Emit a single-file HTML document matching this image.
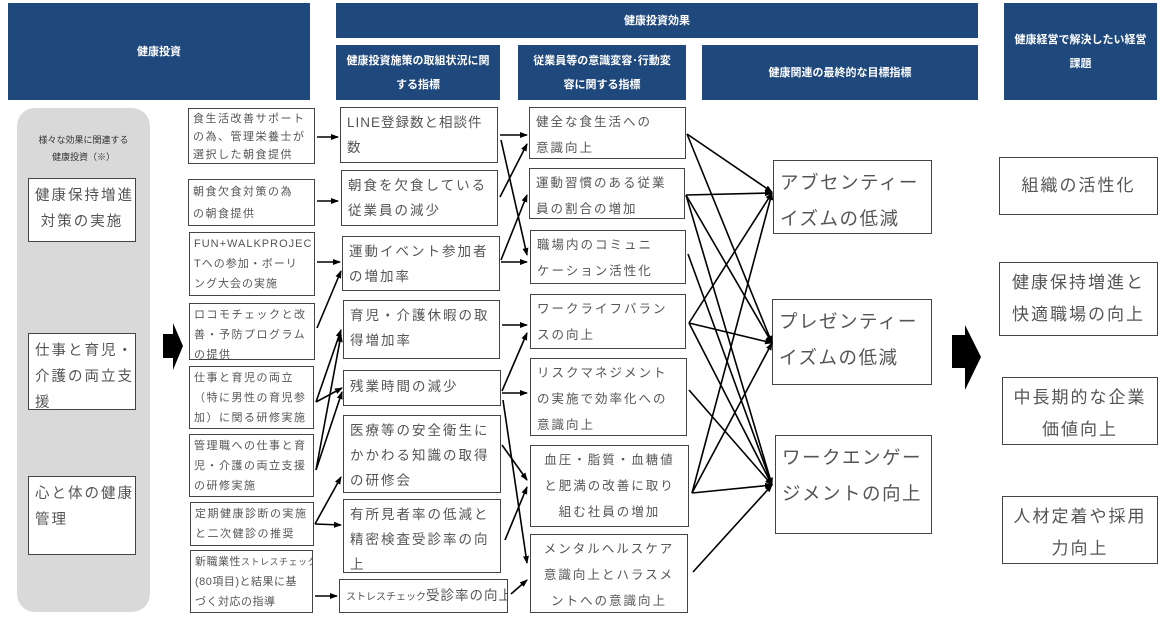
<!DOCTYPE html>
<html><head><meta charset="utf-8"><style>
body{margin:0;width:1167px;height:620px;background:#fff;position:relative;overflow:hidden;font-family:"Liberation Sans","Noto Sans CJK JP",sans-serif;}
.h{position:absolute;background:#1f497d;color:#fff;font-weight:bold;font-size:11px;display:flex;align-items:center;justify-content:center;text-align:center;line-height:24px;}
.b{position:absolute;border:1.5px solid #444;background:#fff;color:#555;box-sizing:border-box;white-space:nowrap;overflow:hidden;}
.a{font-size:11px;line-height:20px;padding:1px 4px;letter-spacing:1.5px;}
.m{font-size:13.5px;line-height:25px;padding:2px 6px;letter-spacing:2px;}
.c{font-size:12.5px;line-height:26px;padding:1px 6px;letter-spacing:2px;}
.d{font-size:18.5px;line-height:36px;padding:4px 6px;letter-spacing:1.5px;}
.e{font-size:17px;line-height:32px;padding:4px 6px;text-align:center;letter-spacing:2px;}
.l{font-size:14.5px;line-height:26px;padding:4px 6px;letter-spacing:2px;}
svg{position:absolute;left:0;top:0;}
</style></head><body>
<div class="h" style="left:8px;top:3px;width:302px;height:97px;">健康投資</div>
<div class="h" style="left:336px;top:3px;width:642px;height:35px;">健康投資効果</div>
<div class="h" style="left:336px;top:45px;width:164px;height:55px;">健康投資施策の取組状況に関<br>する指標</div>
<div class="h" style="left:518px;top:45px;width:168px;height:55px;">従業員等の意識変容･行動変<br>容に関する指標</div>
<div class="h" style="left:702px;top:45px;width:276px;height:55px;">健康関連の最終的な目標指標</div>
<div class="h" style="left:1004px;top:3px;width:153px;height:97px;">健康経営で解決したい経営<br>課題</div>

<div style="position:absolute;left:17px;top:108px;width:133px;height:504px;background:#d9d9d9;border-radius:18px;"></div>
<div style="position:absolute;left:17px;top:132px;width:133px;text-align:center;font-size:9px;line-height:17px;color:#333;">様々な効果に関連する<br>健康投資（※）</div>
<div class="b l" style="left:28px;top:178px;width:108px;height:64px;text-align:center;">健康保持増進<br>対策の実施</div>
<div class="b l" style="left:28px;top:333px;width:108px;height:77px;">仕事と育児・<br>介護の両立支<br>援</div>
<div class="b l" style="left:28px;top:476px;width:108px;height:79px;">心と体の健康<br>管理</div>

<div class="b a" style="left:188px;top:108px;width:127px;height:56px;line-height:18px;">食生活改善サポート<br>の為、管理栄養士が<br>選択した朝食提供</div>
<div class="b a" style="left:188px;top:179px;width:127px;height:47px;line-height:22px;">朝食欠食対策の為<br>の朝食提供</div>
<div class="b a" style="left:189px;top:232px;width:126px;height:64px;letter-spacing:1px;">FUN+WALKPROJEC<br>Tへの参加・ボーリ<br>ング大会の実施</div>
<div class="b a" style="left:189px;top:303px;width:126px;height:57px;">ロコモチェックと改<br>善・予防プログラム<br>の提供</div>
<div class="b a" style="left:189px;top:366px;width:125px;height:63px;">仕事と育児の両立<br>（特に男性の育児参<br>加）に関る研修実施</div>
<div class="b a" style="left:189px;top:434px;width:125px;height:63px;">管理職への仕事と育<br>児・介護の両立支援<br>の研修実施</div>
<div class="b a" style="left:190px;top:502px;width:124px;height:44px;">定期健康診断の実施<br>と二次健診の推奨</div>
<div class="b a" style="left:190px;top:550px;width:123px;height:63px;letter-spacing:0.5px;">新職業性<span style="font-size:9px">ストレスチェック</span><br>(80項目)と結果に基<br>づく対応の指導</div>

<div class="b m" style="left:340px;top:107px;width:158px;height:56px;letter-spacing:1px;">LINE登録数と相談件<br>数</div>
<div class="b m" style="left:341px;top:170px;width:157px;height:56px;">朝食を欠食している<br>従業員の減少</div>
<div class="b m" style="left:342px;top:236px;width:158px;height:55px;">運動イベント参加者<br>の増加率</div>
<div class="b m" style="left:343px;top:300px;width:157px;height:59px;">育児・介護休暇の取<br>得増加率</div>
<div class="b m" style="left:343px;top:370px;width:158px;height:36px;line-height:28px;">残業時間の減少</div>
<div class="b m" style="left:343px;top:415px;width:158px;height:78px;">医療等の安全衛生に<br>かかわる知識の取得<br>の研修会</div>
<div class="b m" style="left:343px;top:499px;width:158px;height:74px;">有所見者率の低減と<br>精密検査受診率の向<br>上</div>
<div class="b m" style="left:339px;top:579px;width:169px;height:34px;letter-spacing:1px;padding-top:3px;"><span style="font-size:10px;letter-spacing:0">ストレスチェック</span>受診率の向上</div>

<div class="b c" style="left:529px;top:107px;width:157px;height:52px;">健全な食生活への<br>意識向上</div>
<div class="b c" style="left:529px;top:168px;width:156px;height:51px;">運動習慣のある従業<br>員の割合の増加</div>
<div class="b c" style="left:530px;top:230px;width:156px;height:54px;">職場内のコミュニ<br>ケーション活性化</div>
<div class="b c" style="left:530px;top:294px;width:156px;height:55px;">ワークライフバラン<br>スの向上</div>
<div class="b c" style="left:530px;top:358px;width:157px;height:78px;">リスクマネジメント<br>の実施で効率化への<br>意識向上</div>
<div class="b c" style="left:530px;top:445px;width:159px;height:82px;text-align:center;">血圧・脂質・血糖値<br>と肥満の改善に取り<br>組む社員の増加</div>
<div class="b c" style="left:530px;top:534px;width:158px;height:79px;text-align:center;">メンタルヘルスケア<br>意識向上とハラスメ<br>ントへの意識向上</div>

<div class="b d" style="left:773px;top:160px;width:159px;height:74px;">アブセンティー<br>イズムの低減</div>
<div class="b d" style="left:772px;top:299px;width:160px;height:86px;">プレゼンティー<br>イズムの低減</div>
<div class="b d" style="left:775px;top:435px;width:157px;height:99px;">ワークエンゲー<br>ジメントの向上</div>

<div class="b e" style="left:999px;top:157px;width:159px;height:58px;padding-top:12px;">組織の活性化</div>
<div class="b e" style="left:999px;top:262px;width:159px;height:74px;">健康保持増進と<br>快適職場の向上</div>
<div class="b e" style="left:1002px;top:377px;width:156px;height:68px;">中長期的な企業<br>価値向上</div>
<div class="b e" style="left:1002px;top:496px;width:156px;height:68px;">人材定着や採用<br>力向上</div>

<svg width="1167" height="620">
<defs><marker id="ar" markerWidth="8" markerHeight="8" refX="7" refY="4" orient="auto" markerUnits="userSpaceOnUse"><path d="M0,1 L8,4 L0,7z" fill="#000"/></marker></defs>
<polygon points="163,334 173,334 173,323 183,346 173,370 173,358 163,358" fill="#000"/>
<polygon points="952,335 965,335 965,325 981,357 965,390 965,368 952,368" fill="#000"/>
<g stroke="#000" stroke-width="1.6" fill="none" marker-end="url(#ar)">
<line x1="317" y1="137" x2="338" y2="137"/>
<line x1="317" y1="201" x2="338" y2="201"/>
<line x1="317" y1="262" x2="340" y2="262"/>
<line x1="317" y1="328" x2="341" y2="271"/>
<line x1="316" y1="402" x2="341" y2="330"/>
<line x1="316" y1="402" x2="342" y2="388"/>
<line x1="316" y1="470" x2="341" y2="335"/>
<line x1="316" y1="470" x2="342" y2="392"/>
<line x1="315" y1="524" x2="341" y2="477"/>
<line x1="315" y1="524" x2="341" y2="525"/>
<line x1="315" y1="596" x2="337" y2="596"/>
<line x1="500" y1="135" x2="527" y2="135"/>
<line x1="501" y1="140" x2="527" y2="255"/>
<line x1="500" y1="197" x2="527" y2="144"/>
<line x1="501" y1="260" x2="527" y2="195"/>
<line x1="501" y1="262" x2="527" y2="262"/>
<line x1="502" y1="325" x2="527" y2="325"/>
<line x1="502" y1="391" x2="527" y2="333"/>
<line x1="502" y1="393" x2="527" y2="393"/>
<line x1="503" y1="400" x2="527" y2="563"/>
<line x1="502" y1="445" x2="527" y2="480"/>
<line x1="505" y1="540" x2="527" y2="487"/>
<line x1="511" y1="594" x2="527" y2="580"/>
<line x1="687" y1="134" x2="772" y2="192"/>
<line x1="687" y1="134" x2="772" y2="343"/>
<line x1="686" y1="195" x2="772" y2="193"/>
<line x1="686" y1="195" x2="772" y2="343"/>
<line x1="686" y1="195" x2="772" y2="485"/>
<line x1="688" y1="254" x2="772" y2="485"/>
<line x1="689" y1="323" x2="772" y2="193"/>
<line x1="689" y1="323" x2="772" y2="343"/>
<line x1="689" y1="323" x2="772" y2="485"/>
<line x1="689" y1="390" x2="772" y2="485"/>
<line x1="692" y1="493" x2="772" y2="193"/>
<line x1="692" y1="493" x2="772" y2="343"/>
<line x1="692" y1="493" x2="772" y2="485"/>
<line x1="693" y1="572" x2="772" y2="485"/>
</g>
</svg>
</body></html>
